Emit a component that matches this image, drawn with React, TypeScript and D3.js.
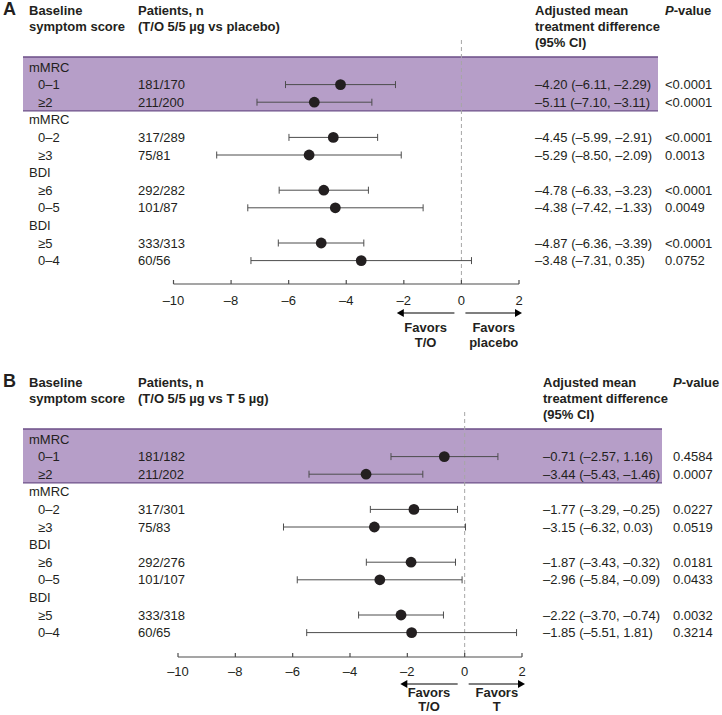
import React from "react";
import * as d3 from "d3";

// ---------- data ----------
const ROW_LABELS = ["mMRC", "0–1", "≥2", "mMRC", "0–2", "≥3", "BDI", "≥6", "0–5", "BDI", "≥5", "0–4"];
const ROW_IS_GROUP = [true, false, false, true, false, false, true, false, false, true, false, false];
const DATA_ROW_INDEX = [1, 2, 4, 5, 7, 8, 10, 11];
const X_TICKS = [-10, -8, -6, -4, -2, 0, 2];

const A_PATIENTS = ["181/170", "211/200", "317/289", "75/81", "292/282", "101/87", "333/313", "60/56"];
const A_MEAN = [-4.2, -5.11, -4.45, -5.29, -4.78, -4.38, -4.87, -3.48];
const A_LOW = [-6.11, -7.1, -5.99, -8.5, -6.33, -7.42, -6.36, -7.31];
const A_HIGH = [-2.29, -3.11, -2.91, -2.09, -3.23, -1.33, -3.39, 0.35];
const A_P = ["<0.0001", "<0.0001", "<0.0001", "0.0013", "<0.0001", "0.0049", "<0.0001", "0.0752"];

const B_PATIENTS = ["181/182", "211/202", "317/301", "75/83", "292/276", "101/107", "333/318", "60/65"];
const B_MEAN = [-0.71, -3.44, -1.77, -3.15, -1.87, -2.96, -2.22, -1.85];
const B_LOW = [-2.57, -5.43, -3.29, -6.32, -3.43, -5.84, -3.7, -5.51];
const B_HIGH = [1.16, -1.46, -0.25, 0.03, -0.32, -0.09, -0.74, 1.81];
const B_P = ["0.4584", "0.0007", "0.0227", "0.0519", "0.0181", "0.0433", "0.0032", "0.3214"];

const FONT = "'Liberation Sans', Arial, Helvetica, sans-serif";
const TEXT = "#231f20";
const LINE = "#4d4d4d";
const BAND_FILL = "#b69ec8";
const BAND_EDGE = "#6b4e87";

const fmt = (v: number) => (v < 0 ? "–" : "") + Math.abs(v).toFixed(2);
const fmtTick = (v: number) => (v < 0 ? "–" + Math.abs(v) : String(v));

type PanelProps = {
  letter: string;
  top: number;
  patientsHeader: string;
  patients: string[];
  mean: number[];
  low: number[];
  high: number[];
  p: string[];
  xRange: [number, number];
  ciX: number;
  pX: number;
  bandRight: number;
  favorsRight: string;
  bottomY: { axis: number; tick: number; arrow: number; fav1: number; fav2: number };
};

function Panel(props: PanelProps) {
  const { letter, top, patients, mean, low, high, p, xRange, ciX, pX, bandRight, favorsRight, bottomY } = props;
  const x = d3.scaleLinear().domain([-10, 2]).range(xRange);
  const rowStep = 17.6;
  const row0 = top + 67;
  const y = d3
    .scaleLinear()
    .domain([0, ROW_LABELS.length - 1])
    .range([row0, row0 + rowStep * (ROW_LABELS.length - 1)]);

  const bandTop = y(0) - 10;
  const bandBottom = y(2) + 8.6;
  const x0 = x(0);

  const leftArrow = { from: x0 - 7, to: x(-2) - 7 };
  const rightArrow = { from: x0 + 4, to: x(2) + 3 };
  const ay = bottomY.arrow;

  return (
    <g fontFamily={FONT} fill={TEXT}>
      <text x={3} y={top + 15} fontSize={18} fontWeight="bold">
        {letter}
      </text>
      <g fontSize={13} fontWeight="bold">
        <text x={29} y={top + 15}>Baseline</text>
        <text x={29} y={top + 31}>symptom score</text>
        <text x={138} y={top + 15}>Patients, n</text>
        <text x={138} y={top + 31}>{props.patientsHeader}</text>
        <text x={ciX} y={top + 15}>Adjusted mean</text>
        <text x={ciX} y={top + 31}>treatment difference</text>
        <text x={ciX} y={top + 47}>(95% CI)</text>
        <text x={pX} y={top + 15}>
          <tspan fontStyle="italic">P</tspan>-value
        </text>
      </g>

      <rect x={23} y={bandTop} width={bandRight - 23} height={bandBottom - bandTop} fill={BAND_FILL} />
      <line x1={23} x2={bandRight} y1={bandTop} y2={bandTop} stroke={BAND_EDGE} strokeWidth={1.3} />
      <line x1={23} x2={bandRight} y1={bandBottom} y2={bandBottom} stroke={BAND_EDGE} strokeWidth={1.3} />

      <line
        x1={x0}
        x2={x0}
        y1={top + 40}
        y2={bottomY.axis}
        stroke="#a6a6a6"
        strokeWidth={1}
        strokeDasharray="4,3"
      />

      <g fontSize={13}>
        {ROW_LABELS.map((lab, i) => (
          <text key={i} x={ROW_IS_GROUP[i] ? 29 : 38} y={y(i)} dy="0.35em">
            {lab}
          </text>
        ))}
      </g>

      {DATA_ROW_INDEX.map((ri, k) => {
        const cy = y(ri);
        return (
          <g key={k}>
            <text x={138} y={cy} dy="0.35em" fontSize={13}>
              {patients[k]}
            </text>
            <line x1={x(low[k])} x2={x(high[k])} y1={cy} y2={cy} stroke={LINE} strokeWidth={1} />
            <line x1={x(low[k])} x2={x(low[k])} y1={cy - 3.5} y2={cy + 3.5} stroke={LINE} strokeWidth={1} />
            <line x1={x(high[k])} x2={x(high[k])} y1={cy - 3.5} y2={cy + 3.5} stroke={LINE} strokeWidth={1} />
            <circle cx={x(mean[k])} cy={cy} r={5.4} fill={TEXT} />
            <text x={ciX} y={cy} dy="0.35em" fontSize={13}>
              {`${fmt(mean[k])} (${fmt(low[k])}, ${fmt(high[k])})`}
            </text>
            <text x={pX} y={cy} dy="0.35em" fontSize={13}>
              {p[k]}
            </text>
          </g>
        );
      })}

      <line x1={x(-10)} x2={x(2)} y1={bottomY.axis} y2={bottomY.axis} stroke={LINE} strokeWidth={1.2} />
      {X_TICKS.map((t) => (
        <g key={t}>
          <line x1={x(t)} x2={x(t)} y1={bottomY.axis} y2={bottomY.axis - 4} stroke={LINE} strokeWidth={1.2} />
          <text x={x(t)} y={bottomY.tick} fontSize={13} textAnchor="middle">
            {fmtTick(t)}
          </text>
        </g>
      ))}

      <line x1={leftArrow.from} x2={leftArrow.to + 6} y1={ay} y2={ay} stroke="#000" strokeWidth={1.2} />
      <path d={`M${leftArrow.to},${ay} l7,-4 l0,8 z`} fill="#000" />
      <line x1={rightArrow.from} x2={rightArrow.to - 6} y1={ay} y2={ay} stroke="#000" strokeWidth={1.2} />
      <path d={`M${rightArrow.to},${ay} l-7,-4 l0,8 z`} fill="#000" />
      <g fontSize={13} fontWeight="bold" textAnchor="middle">
        <text x={(leftArrow.from + leftArrow.to) / 2} y={bottomY.fav1}>Favors</text>
        <text x={(leftArrow.from + leftArrow.to) / 2} y={bottomY.fav2}>T/O</text>
        <text x={(rightArrow.from + rightArrow.to) / 2} y={bottomY.fav1}>Favors</text>
        <text x={(rightArrow.from + rightArrow.to) / 2} y={bottomY.fav2}>{favorsRight}</text>
      </g>
    </g>
  );
}

export default function App() {
  return (
    <svg
      width={722}
      height={715}
      viewBox="0 0 722 715"
      style={{ position: "absolute", left: 0, top: 0, background: "#fff" }}
    >
      <rect x={0} y={0} width={722} height={715} fill="#fff" />
      <Panel
        letter="A"
        top={0}
        patientsHeader="(T/O 5/5 µg vs placebo)"
        patients={A_PATIENTS}
        mean={A_MEAN}
        low={A_LOW}
        high={A_HIGH}
        p={A_P}
        xRange={[173.5, 519]}
        ciX={535}
        pX={665}
        bandRight={658}
        favorsRight="placebo"
        bottomY={{ axis: 284, tick: 305, arrow: 313, fav1: 332, fav2: 347 }}
      />
      <Panel
        letter="B"
        top={372}
        patientsHeader="(T/O 5/5 µg vs T 5 µg)"
        patients={B_PATIENTS}
        mean={B_MEAN}
        low={B_LOW}
        high={B_HIGH}
        p={B_P}
        xRange={[178, 522]}
        ciX={543}
        pX={673}
        bandRight={662}
        favorsRight="T"
        bottomY={{ axis: 657, tick: 676, arrow: 684, fav1: 697, fav2: 711 }}
      />
    </svg>
  );
}
